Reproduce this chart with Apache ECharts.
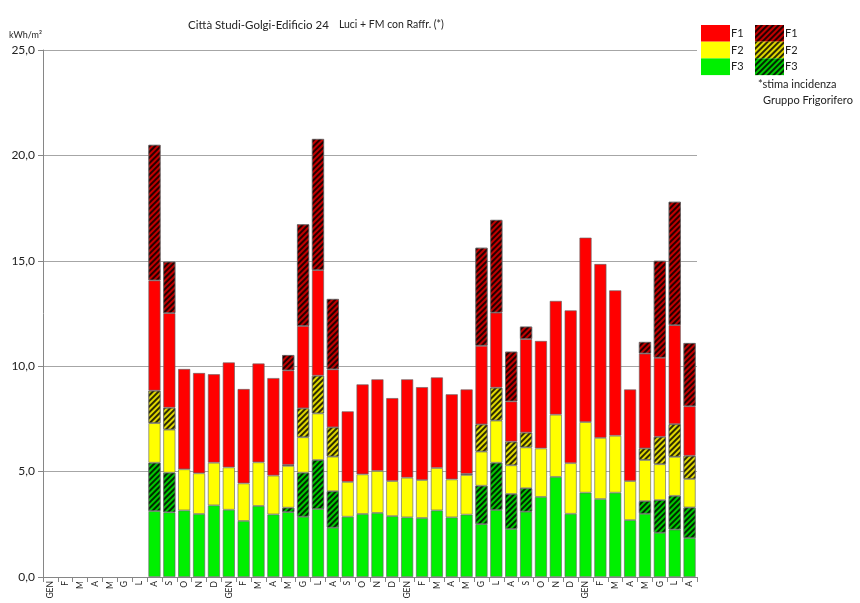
<!DOCTYPE html>
<html>
<head>
<meta charset="utf-8">
<script src="https://cdn.jsdelivr.net/npm/echarts@6/dist/echarts.min.js"></script>
<style>html,body{margin:0;padding:0;background:#fff}#c{width:860px;height:603px}</style>
</head>
<body>
<div id="c"></div>
<script>
const categories = ['GEN','F','M','A','M','G','L','A','S','O','N','D',
  'GEN','F','M','A','M','G','L','A','S','O','N','D',
  'GEN','F','M','A','M','G','L','A','S','O','N','D',
  'GEN','F','M','A','M','G','L','A'];
const yTicks = [0, 5, 10, 15, 20, 25];
const N = null;
const F3  = [N,N,N,N,N,N,N, 3.13,3.07,3.16,2.99,3.40, 3.19,2.66,3.37,2.97,3.08,2.86,3.23,2.34,2.86,2.99,3.04,2.89, 2.83,2.80,3.16,2.83,2.96,2.51,3.18,2.28,3.10,3.80,4.75,3.00, 4.00,3.70,4.00,2.70,3.00,2.10,2.25,1.85];
const F3h = [N,N,N,N,N,N,N, 2.29,1.88,0,0,0, 0,0,0,0,0.21,2.09,2.32,1.73,0,0,0,0, 0,0,0,0,0,1.82,2.24,1.66,1.11,0,0,0, 0,0,0,0,0.60,1.55,1.60,1.45];
const F2  = [N,N,N,N,N,N,N, 1.88,2.04,1.95,1.93,2.02, 2.01,1.78,2.07,1.84,1.98,1.68,2.21,1.64,1.65,1.88,1.99,1.66, 1.88,1.80,2.01,1.80,1.88,1.62,2.00,1.36,1.94,2.30,2.95,2.40, 3.35,2.90,2.70,1.85,1.95,1.70,1.85,1.35];
const F2h = [N,N,N,N,N,N,N, 1.54,1.04,0,0,0, 0,0,0,0,0.05,1.37,1.79,1.39,0,0,0,0, 0,0,0,0,0.05,1.29,1.56,1.12,0.70,0,0,0, 0,0,0,0,0.55,1.30,1.55,1.10];
const F1  = [N,N,N,N,N,N,N, 5.23,4.49,4.76,4.76,4.20, 4.98,4.48,4.69,4.63,4.48,3.91,5.01,2.75,3.35,4.27,4.35,3.94, 4.67,4.41,4.30,4.04,4.01,3.73,3.56,1.91,4.44,5.10,5.40,7.25, 8.75,8.25,6.90,4.35,4.50,3.75,4.70,2.35];
const F1h = [N,N,N,N,N,N,N, 6.43,2.44,0,0,0, 0,0,0,0,0.73,4.82,6.22,3.34,0,0,0,0, 0,0,0,0,0,4.65,4.40,2.36,0.59,0,0,0, 0,0,0,0,0.55,4.60,5.85,3.00];

const clean = a => a.map(v => (v === 0 ? null : v));
const FONT = 'Lato, "Liberation Sans", sans-serif';
const hatch = {
  symbol: 'rect', symbolSize: 1,
  dashArrayX: [1, 0], dashArrayY: [1.2, 1.2],
  rotation: -Math.PI / 4, color: 'rgba(0,0,0,0.8)'
};
function ser(name, data, color, hatched) {
  const s = {
    name: name, type: 'bar', stack: 'tot', data: clean(data),
    barCategoryGap: '18%',
    itemStyle: { color: color, borderColor: 'rgba(100,100,100,0.8)', borderWidth: 0.8 },
    emphasis: { disabled: true }
  };
  if (hatched) s.itemStyle.decal = hatch;
  return s;
}
const legendCommon = {
  orient: 'vertical', top: 25, padding: 0, itemWidth: 29, itemHeight: 16.7, itemGap: 0,
  icon: 'rect', selectedMode: false,
  itemStyle: { borderWidth: 0 },
  textStyle: { fontSize: 11, fontFamily: FONT, color: '#222', lineHeight: 13, padding: [0, 0, 0, -4] }
};
const chart = echarts.init(document.getElementById('c'), null, { renderer: 'canvas' });
chart.setOption({
  animation: false,
  backgroundColor: '#fff',
  title: {
    text: '{a|Città Studi-Golgi-Edificio 24}  {b|Luci + FM con Raffr. (*)}',
    left: 311, top: 11, textAlign: 'center',
    textStyle: { fontWeight: 'normal', rich: {
      a: { fontSize: 11.5, fontFamily: FONT, color: '#222', fontWeight: 'normal' },
      b: { fontSize: 10.5, fontFamily: FONT, color: '#222', fontWeight: 'normal' }
    } }
  },
  legend: [
    Object.assign({}, legendCommon, { data: ['F1','F2','F3'], left: 701 }),
    Object.assign({}, legendCommon, { data: ['F1*','F2*','F3*'], left: 755, formatter: n => n.replace('*','') })
  ],
  graphic: [
    { type: 'text', left: 758, top: 79, style: { text: '*stima incidenza', fontSize: 11, fontFamily: FONT, fill: '#222' } },
    { type: 'text', left: 763, top: 95, style: { text: 'Gruppo Frigorifero', fontSize: 11, fontFamily: FONT, fill: '#222' } },
    { type: 'text', left: 9, top: 31, style: { text: 'kWh/m²', fontSize: 9, fontFamily: FONT, fill: '#222' } }
  ],
  grid: { left: 43, right: 163, top: 50, bottom: 26, containLabel: false },
  xAxis: {
    type: 'category', data: categories,
    axisLine: { lineStyle: { color: '#868686' } },
    axisTick: { show: true, interval: 0, length: 5, lineStyle: { color: '#868686' } },
    axisLabel: { interval: 0, rotate: 90, fontSize: 8.5, fontFamily: FONT, color: '#222', margin: 4 }
  },
  yAxis: {
    type: 'value', min: yTicks[0], max: yTicks[yTicks.length - 1], interval: 5,
    axisLine: { show: true, lineStyle: { color: '#868686' } },
    axisTick: { show: true, length: 5, lineStyle: { color: '#868686' } },
    axisLabel: { fontSize: 12, fontFamily: FONT, color: '#222', margin: 8,
      formatter: v => v.toFixed(1).replace('.', ',') },
    splitLine: { lineStyle: { color: '#a6a6a6', width: 1 } }
  },
  series: [
    ser('F3', F3, '#00f000', false),
    ser('F3*', F3h, '#00c800', true),
    ser('F2', F2, '#ffff00', false),
    ser('F2*', F2h, '#e0d800', true),
    ser('F1', F1, '#ff0000', false),
    ser('F1*', F1h, '#c00000', true)
  ]
});
</script>
</body>
</html>
